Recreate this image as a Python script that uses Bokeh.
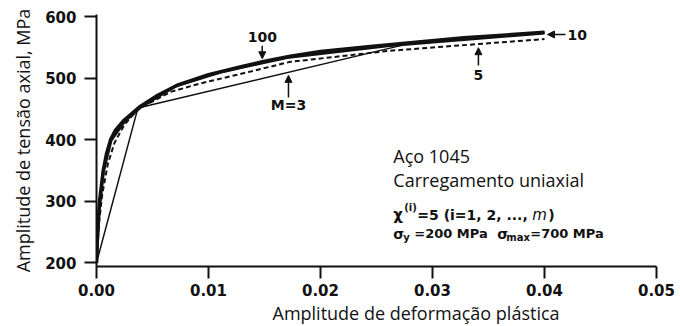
from bokeh.plotting import figure
from bokeh.models import Range1d, FixedTicker, Label, Arrow, NormalHead, Title
from bokeh.embed import file_html
from bokeh.resources import INLINE

# Plastic strain amplitude vs. axial stress amplitude, AISI 1045 steel,
# multi-surface plasticity model with M = 3, 5, 10 and 100 surfaces.
strain_m100 = [0.0, 0.0001, 0.00027, 0.0006, 0.0009, 0.00125, 0.0017, 0.0024,
               0.0038, 0.0055, 0.0072, 0.010, 0.0129, 0.0148, 0.0173, 0.020,
               0.024, 0.028, 0.0328, 0.040]
stress_m100 = [200, 250, 300, 350, 378, 400, 416, 431, 453, 473, 489, 506,
               519, 527, 536, 544, 551, 558, 566, 575]

strain_m10 = [0.0, 0.0002, 0.0006, 0.0013, 0.0025, 0.0040, 0.0070, 0.0110,
              0.0170, 0.0260, 0.040]
stress_m10 = [200, 280, 348, 399, 430, 454, 487, 510, 534, 553, 574]

strain_m5 = [0.0, 0.0002, 0.0005, 0.0010, 0.0016, 0.0025, 0.0037, 0.0066,
             0.0093, 0.0128, 0.0173, 0.0262, 0.0341, 0.040]
stress_m5 = [200, 260, 310, 360, 395, 425, 450, 478, 492, 507, 527, 545,
             556, 564]

strain_m3 = [0.0, 0.0037, 0.028, 0.040]
stress_m3 = [200, 452, 557, 575]

x_ticks = [0.0, 0.01, 0.02, 0.03, 0.04, 0.05]
x_tick_labels = ["0.00", "0.01", "0.02", "0.03", "0.04", "0.05"]
y_ticks = [200, 300, 400, 500, 600]
y_tick_labels = ["200", "300", "400", "500", "600"]

INK = "#111111"
NUM_FONT = "DejaVu Sans"
TXT_FONT = "Open Sans"

p = figure(width=680, height=326, output_backend="svg", toolbar_location=None,
           x_range=Range1d(0.0, 0.05), y_range=Range1d(194, 604),
           min_border_left=96, min_border_right=24, min_border_top=14,
           min_border_bottom=60)
p.outline_line_color = None
p.grid.visible = False
p.background_fill_color = "white"
p.border_fill_color = "white"

for ax in (p.xaxis[0], p.yaxis[0]):
    ax.axis_line_width = 2
    ax.axis_line_color = INK
    ax.major_tick_line_width = 2
    ax.major_tick_line_color = INK
    ax.major_tick_out = 12
    ax.major_tick_in = 0
    ax.minor_tick_line_color = None
    ax.major_label_text_font = NUM_FONT
    ax.major_label_text_font_style = "bold"
    ax.major_label_text_font_size = "15px"
    ax.major_label_text_color = INK

p.xaxis.ticker = FixedTicker(ticks=x_ticks)
p.xaxis.major_label_overrides = dict(zip(x_ticks, x_tick_labels))
p.xaxis.major_label_standoff = 5

p.yaxis.ticker = FixedTicker(ticks=y_ticks)
p.yaxis.major_label_overrides = dict(zip(y_ticks, y_tick_labels))
p.yaxis.major_label_standoff = 8
p.yaxis.axis_label = "Amplitude de tensão axial, MPa"
p.yaxis.axis_label_text_font = TXT_FONT
p.yaxis.axis_label_text_font_style = "normal"
p.yaxis.axis_label_text_font_size = "18px"
p.yaxis.axis_label_text_color = INK
p.yaxis.axis_label_standoff = 7

# x-axis title, set below the tick labels and shifted right of centre
xtitle = Title(text="Amplitude de deformação plástica", align="left",
               offset=176, standoff=0, text_font=TXT_FONT,
               text_font_style="normal", text_font_size="18px",
               text_color=INK)
p.add_layout(xtitle, "below")

# curves
p.line(strain_m5, stress_m5, line_color=INK, line_width=2, line_dash="5 3")
p.line(strain_m3, stress_m3, line_color=INK, line_width=1.5, line_join="round")
p.line(strain_m10, stress_m10, line_color=INK, line_width=3, line_join="round")
p.line(strain_m100, stress_m100, line_color=INK, line_width=3.5, line_join="round")


def note(text, x, y, size, font=NUM_FONT, style="bold", align="left",
         baseline="alphabetic", dx=0):
    p.add_layout(Label(x=x, y=y, x_offset=dx, text=text, text_font=font,
                       text_font_style=style, text_font_size=size,
                       text_color=INK, text_align=align,
                       text_baseline=baseline))


def pointer(x0, y0, x1, y1):
    p.add_layout(Arrow(x_start=x0, y_start=y0, x_end=x1, y_end=y1,
                       line_color=INK, line_width=1.5,
                       end=NormalHead(size=7, line_color=INK, fill_color=INK,
                                      line_width=1)))


# curve labels with pointers
note("100", 0.0148, 568, "14px", align="center", baseline="middle")
pointer(0.0148, 553, 0.0148, 532)
note("M=3", 0.01714, 457, "14px", align="center", baseline="middle")
pointer(0.01714, 469, 0.01714, 505)
note("5", 0.0341, 505, "14px", align="center", baseline="middle")
pointer(0.0341, 521, 0.0341, 550)
note("10", 0.04205, 570, "14px", baseline="middle")
pointer(0.04188, 571.5, 0.04027, 571.5)

# material / loading description
note("Aço 1045", 0.0265, 374.5, "18px", font=TXT_FONT, style="normal")
note("Carregamento uniaxial", 0.0265, 335, "18px", font=TXT_FONT, style="normal")

note("χ", 0.0265, 277, "15px")
note("(i)", 0.0265, 290, "10px", dx=11)
note("=5 (i=1, 2, ...,", 0.0265, 277, "14px", dx=24)
note("m", 0.0265, 277, "15px", style="italic", dx=139)
note(")", 0.0265, 277, "14px", dx=155)

note("σ", 0.0265, 247, "14px")
note("y", 0.0265, 240.5, "10px", dx=10)
note("=200 MPa", 0.0265, 247, "13px", dx=21)
note("σ", 0.0265, 247, "14px", dx=104)
note("max", 0.0265, 240.5, "10px", dx=113)
note("=700 MPa", 0.0265, 247, "13px", dx=137)

open("out.html", "w").write(file_html(p, INLINE))
